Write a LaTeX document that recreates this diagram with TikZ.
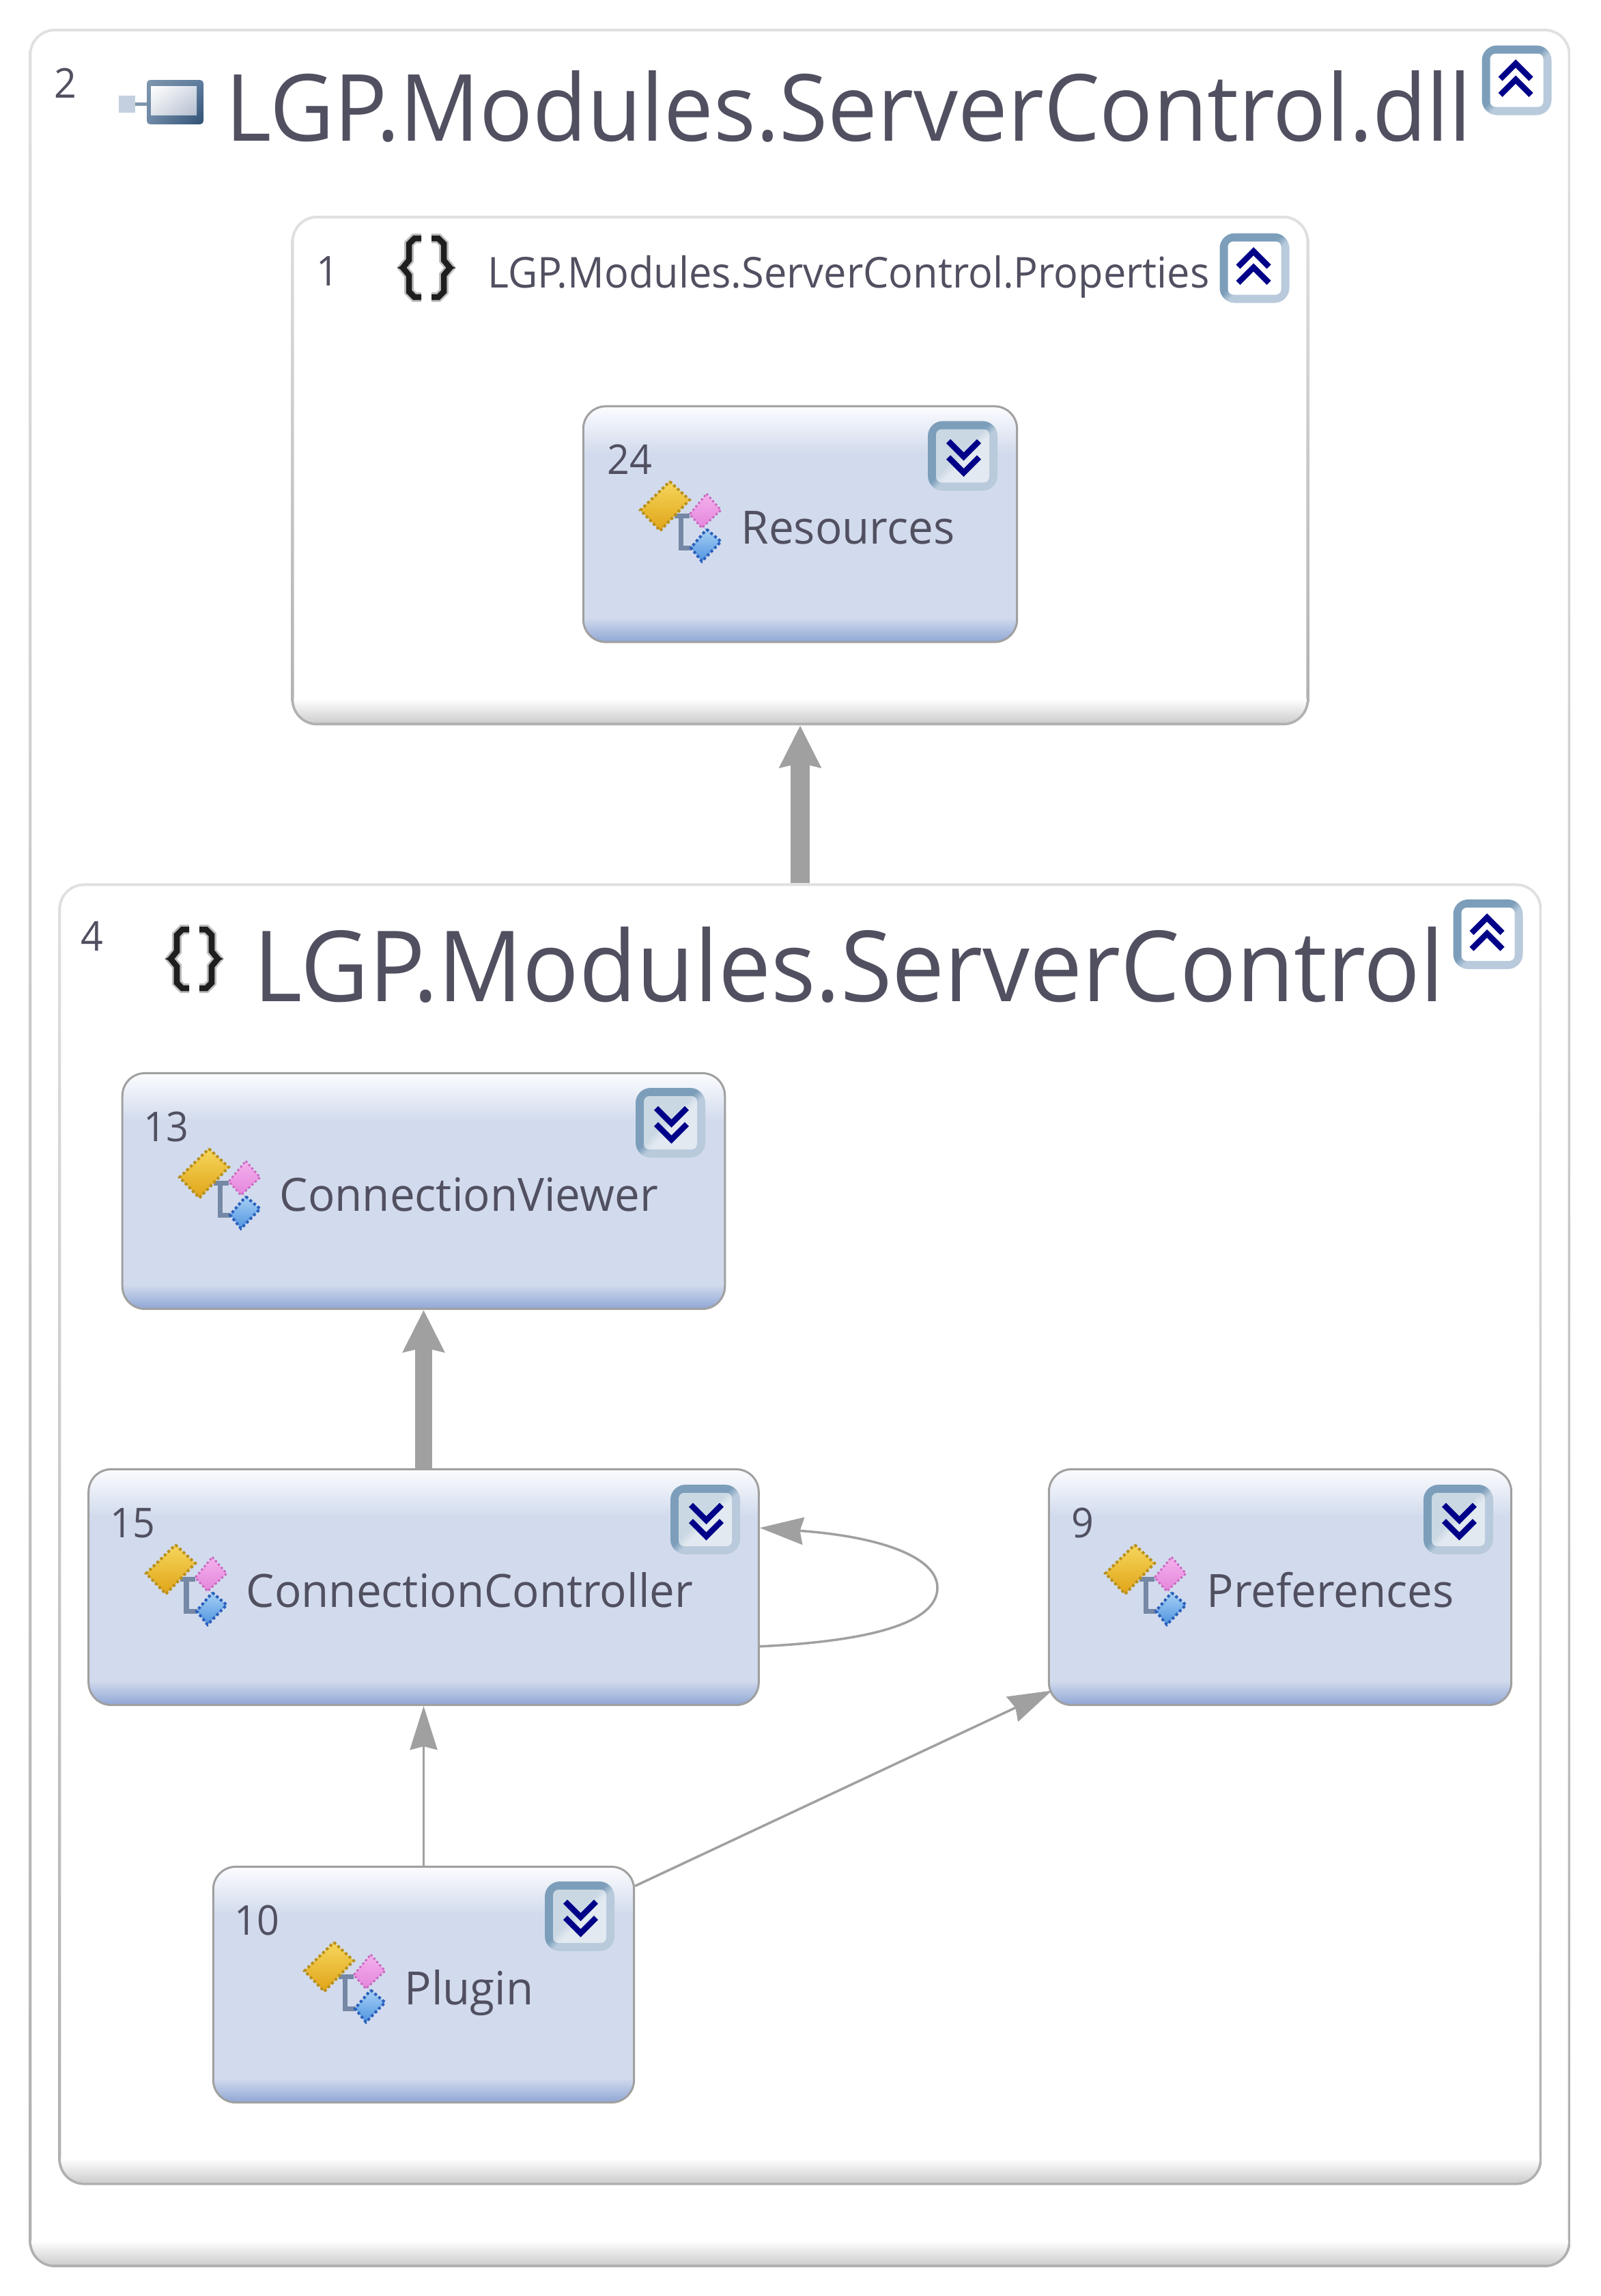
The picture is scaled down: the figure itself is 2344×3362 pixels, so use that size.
\documentclass[tikz,border=0pt]{standalone}
\usepackage{fontspec}
\usetikzlibrary{arrows.meta, shadings}
\newfontfamily\diagfont[FakeStretch=0.975]{Open Sans}
\newfontfamily\bigfont[FakeStretch=0.955]{Open Sans}
\definecolor{inkc}{HTML}{515061}
\definecolor{arrowc}{HTML}{A0A0A0}
\definecolor{edgetop}{HTML}{E0E0E0}
\definecolor{edgebot}{HTML}{B0B0B0}
\definecolor{bandc}{HTML}{C8C8C8}
\definecolor{classmid}{HTML}{D2DBED}
\definecolor{classtop}{HTML}{FBFCFE}
\definecolor{classbot}{HTML}{8FA6D5}
\definecolor{ringdark}{HTML}{7C9EBA}
\definecolor{ringlight}{HTML}{B8CADB}
\definecolor{chevc}{HTML}{000088}
\definecolor{linkc}{HTML}{7588A5}
\definecolor{yellowa}{HTML}{F6D65C}
\definecolor{yellowb}{HTML}{E0A418}
\definecolor{yellowc}{HTML}{B8901E}
\definecolor{pinka}{HTML}{F4B0EC}
\definecolor{pinkb}{HTML}{E486DC}
\definecolor{pinkc}{HTML}{C868C0}
\definecolor{bluea}{HTML}{A6D0F4}
\definecolor{blueb}{HTML}{5094E0}
\definecolor{bluec}{HTML}{2A60BC}
\definecolor{stubc}{HTML}{C4D0DF}
\definecolor{stublink}{HTML}{7F96AE}
\definecolor{dlla}{HTML}{7F96AE}
\definecolor{dllb}{HTML}{5F7E9E}
\definecolor{dllc}{HTML}{6F8AA6}
\definecolor{dlld}{HTML}{2F5075}
\definecolor{dlle}{HTML}{D8DEE8}
\definecolor{dllf}{HTML}{E0E5EC}
\definecolor{dllg}{HTML}{B4BECE}
\definecolor{bracec}{HTML}{1E1E1E}
\pgfdeclareverticalshading{ringshade}{100bp}{color(0bp)=(ringlight); color(47bp)=(ringlight); color(53bp)=(ringdark); color(100bp)=(ringdark)}
\pgfdeclareverticalshading{classshade}{100bp}{color(0bp)=(classbot); color(25bp)=(classbot); color(30.2bp)=(classmid); color(65bp)=(classmid); color(75bp)=(classtop); color(100bp)=(classtop)}
\tikzset{
	groupbox/.style 2 args={rectangle, fill=white, inner sep=0pt, outer sep=0pt, rounded corners=.38cm, minimum width=#1, minimum height=#2,
		path picture={
			\shade[sharp corners, top color=edgetop, bottom color=edgebot] (path picture bounding box.south west) rectangle (path picture bounding box.north east);
			\begin{scope}
				\clip[rounded corners=.34cm] ([shift={(.04cm,.04cm)}]path picture bounding box.south west) rectangle ([shift={(-.04cm,-.04cm)}]path picture bounding box.north east);
				\fill[sharp corners, white] (path picture bounding box.south west) rectangle (path picture bounding box.north east);
				\shade[sharp corners, top color=white, bottom color=bandc] (path picture bounding box.south west) rectangle ([yshift=.39cm]path picture bounding box.south east);
			\end{scope}
		}},
	classbox/.style={rectangle, draw=arrowc, line width=.03cm, shade, shading=classshade, inner sep=0pt, rounded corners=.33cm, minimum width=#1, minimum height=3.45cm},
	numtext/.style={anchor=base west, inner sep=0pt, text=inkc, font=\bigfont\fontsize{17.1}{20}\selectfont},
	nametext/.style={anchor=base west, inner sep=0pt, text=inkc, font=\diagfont\fontsize{19.1}{22}\selectfont},
	bigtext/.style={anchor=base west, inner sep=0pt, text=inkc, font=\bigfont\fontsize{#1}{42}\selectfont},
	fatdep/.style={draw=arrowc, line width=#1, -{Stealth[length=.61cm, width=.59cm, inset=.06cm]}},
	thindep/.style={draw=arrowc, line width=.035cm, -{Stealth[length=.64cm, width=.40cm, inset=.05cm]}},
	upbutton/.pic={
		\path[shade, shading=ringshade, shading angle=45, rounded corners=.22cm] (-51,-51) rectangle (51,51);
		\fill[white, rounded corners=.08cm] (-39,-39) rectangle (39,39);
		\draw[chevc, line width=.085cm] (-24,-2) -- (-1.5,-24.5) -- (21,-2);
		\draw[chevc, line width=.085cm] (-24,21.5) -- (-1.5,-1) -- (21,21.5);
	},
	downbutton/.pic={
		\path[shade, shading=ringshade, shading angle=45, rounded corners=.22cm] (-51,-51) rectangle (51,51);
		\fill[white, fill opacity=.6, rounded corners=.08cm] (-39,-39) rectangle (39,39);
		\draw[chevc, line width=.085cm] (24,2) -- (1.5,24.5) -- (-21,2);
		\draw[chevc, line width=.085cm] (24,-21.5) -- (1.5,1) -- (-21,-21.5);
	},
	classicon/.pic={
		\draw[linkc, line width=.07cm] (50,50) -- (72,50) (59,50) -- (59,97) -- (75,97);
		\shade[top color=yellowa, bottom color=yellowb, draw=yellowc, densely dotted, line width=.04cm] (43,0) -- (72,27) -- (29,72) -- (0,42) -- cycle;
		\shade[top color=pinka, bottom color=pinkb, draw=pinkc, densely dotted, line width=.03cm] (97,18) -- (118,42) -- (90,68) -- (72,48) -- cycle;
		\shade[top color=bluea, bottom color=blueb, draw=bluec, densely dotted, line width=.04cm] (97,70) -- (118,88) -- (90,117) -- (74,97) -- cycle;
	},
	dllicon/.pic={
		\fill[stubc] (0,23) rectangle (24,48);
		\draw[stublink, line width=.05cm] (24,35) -- (41,35);
		\shade[upper left=dlla, upper right=dllb, lower left=dllc, lower right=dlld, rounded corners=.05cm] (41,0) rectangle (124,65);
		\shade[upper left=white, upper right=dlle, lower left=dllf, lower right=dllg] (47,9) rectangle (114,51);
	},
	bracesicon/.pic={
		\draw[bracec, line width=.085cm, preaction={draw, line width=.14cm, opacity=.25}] (37,6) -- (27,6) -- (19,14) -- (19,38) -- (10,49) -- (19,60) -- (19,84) -- (27,92) -- (37,92);
		\draw[bracec, line width=.085cm, preaction={draw, line width=.14cm, opacity=.25}] (52,6) -- (62,6) -- (70,14) -- (70,38) -- (79,49) -- (70,60) -- (70,84) -- (62,92) -- (52,92);
		\fill[bracec] (2,49) -- (15,43) -- (15,55) -- cycle (87,49) -- (74,43) -- (74,55) -- cycle;
	},
}
\begin{document}
\begin{tikzpicture}[x=.01cm, y=-.01cm]
	\useasboundingbox (0,0) rectangle (2344,3362);

	\node[groupbox={22.57cm}{32.76cm}] at (1171.5,1681) (dll) {};
	\node[groupbox={14.90cm}{7.46cm}] at (1172,689) (props) {};
	\node[groupbox={21.72cm}{19.05cm}] at (1172,2246.5) (ns) {};

	\node[classbox=6.35cm] at (1172,767.5) (res) {};
	\node[classbox=8.82cm] at (620.5,1744) (viewer) {};
	\node[classbox=9.81cm] at (620.5,2324) (ctrl) {};
	\node[classbox=6.77cm] at (1875,2324) (prefs) {};
	\node[classbox=6.16cm] at (620.5,2906) (plugin) {};

	\node[numtext] at (79,143) (dllnum) {2};
	\node[bigtext=38.6] at (330,206) (dlltitle) {LGP.Modules.ServerControl.dll};
	\node[numtext] at (463,418) (propsnum) {1};
	\node[bigtext=17.7] at (714,421) (propstitle) {LGP.Modules.ServerControl.Properties};
	\node[numtext] at (118,1392) (nsnum) {4};
	\node[bigtext=40.9] at (371,1466) (nstitle) {LGP.Modules.ServerControl};

	\node[numtext] at (889,694) (resnum) {24};
	\node[nametext] at (1085,796) (resname) {Resources};
	\node[numtext] at (210,1671) (viewernum) {13};
	\node[nametext] at (409,1773) (viewername) {ConnectionViewer};
	\node[numtext] at (161,2251) (ctrlnum) {15};
	\node[nametext] at (360,2353) (ctrlname) {ConnectionController};
	\node[numtext] at (1569,2251) (prefsnum) {9};
	\node[nametext] at (1767,2353) (prefsname) {Preferences};
	\node[numtext] at (343,2833) (pluginnum) {10};
	\node[nametext] at (592,2935) (pluginname) {Plugin};

	\pic at (174,117) {dllicon};
	\pic at (580,343) {bracesicon};
	\pic at (240,1355) {bracesicon};
	\pic at (938,705) {classicon};
	\pic at (263,1682) {classicon};
	\pic at (214,2262) {classicon};
	\pic at (1619,2262) {classicon};
	\pic at (446,2844) {classicon};

	\pic at (2221.5,117.5) {upbutton};
	\pic at (1837.5,392.5) {upbutton};
	\pic at (2179.5,1368) {upbutton};
	\pic at (1410,667.5) {downbutton};
	\pic at (982,1644) {downbutton};
	\pic at (1033,2225) {downbutton};
	\pic at (2136,2225) {downbutton};
	\pic at (849,2806) {downbutton};

	\coordinate (loopfar) at (1373,2325);
	\draw[fatdep=.28cm] (ns.north) -- (props.south);
	\draw[fatdep=.24cm] (ctrl.north) -- (viewer.south);
	\draw[thindep] (plugin.north) -- (ctrl.south);
	\draw[thindep] (plugin.25) -- ([xshift=.06cm]prefs.204);
	\draw[thindep] (ctrl.-10.4) .. controls (1280,2403) and (1373,2375) .. (loopfar) .. controls (1373,2280) and (1290,2250) .. (ctrl.10.2);
\end{tikzpicture}
\end{document}
